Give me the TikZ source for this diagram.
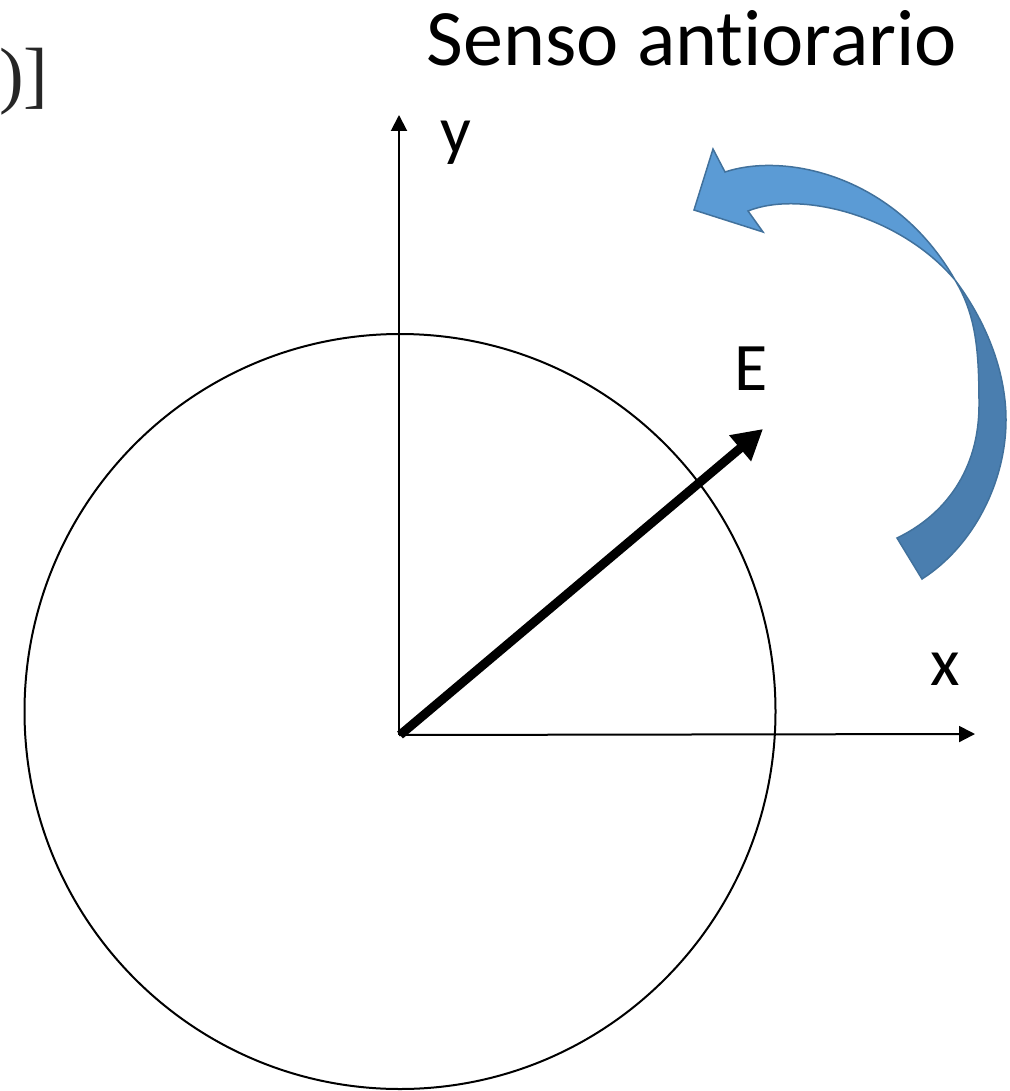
\documentclass[tikz,border=0pt]{standalone}
\usepackage{fontspec}
\setmainfont{Carlito}[Ligatures={NoCommon}]
\newfontfamily\serifold{Liberation Serif}
\usetikzlibrary{arrows.meta}
\definecolor{lightblue}{HTML}{5B9BD5}
\definecolor{darkblue}{HTML}{4A7EAF}
\definecolor{edgeblue}{HTML}{41719C}
\tikzset{
  axisline/.style={line width=2pt, -{Triangle[length=16pt,width=16pt]}},
  vecline/.style={line width=9pt, -{Triangle[length=30pt,width=32pt]}},
  lbl/.style={font=\fontsize{68}{80}\selectfont, inner sep=0pt, anchor=base},
  ribbon/.style={draw=edgeblue, line width=1.5pt, line join=miter},
}
\begin{document}
\begin{tikzpicture}[x=1pt,y=-1pt]
\useasboundingbox (0,0) rectangle (1009,1091);
% fragment of text at the top left
\node[font=\serifold\fontsize{74}{86}\selectfont, inner sep=0pt, anchor=base west, text=black!85] (frag) at (-1,100) {)]};
% title
\node[font=\fontsize{80}{96}\selectfont, inner sep=0pt, anchor=base] (title) at (692,66) {Senso antiorario};
% circle
\draw[line width=2pt] (400,711.5) ellipse [x radius=375.5, y radius=377.5];
% axes
\coordinate (O) at (399,735);
\coordinate (yend) at (399,115);
\coordinate (xend) at (975,734);
\draw[axisline] (O) -- (yend);
\draw[axisline] (O) -- (xend);
\node[lbl] (ylab) at (456,154) {y};
\node[lbl] (xlab) at (945,685) {x};
% vector E
\coordinate (Estart) at (400,735);
\coordinate (Etip) at (763,429);
\draw[vecline] (Estart) -- (Etip);
\node[lbl] (Elab) at (751,390) {E};
% curved arrow: lower (back) part
\filldraw[ribbon, fill=darkblue]
  (955,280) .. controls (985,320) and (1006,370) .. (1006,420)
  .. controls (1006,480) and (975,545) .. (922,579)
  -- (897,538)
  .. controls (945,515) and (979,470) .. (979,405)
  .. controls (979,350) and (976,315) .. (955,280)
  -- cycle;
% curved arrow: upper (front) part with head
\filldraw[ribbon, fill=lightblue]
  (694,210) -- (713,149) -- (725,172)
  .. controls (785,152) and (895,175) .. (955,280)
  .. controls (900,215) and (800,190) .. (748,211)
  -- (763,232) -- cycle;
\end{tikzpicture}
\end{document}
